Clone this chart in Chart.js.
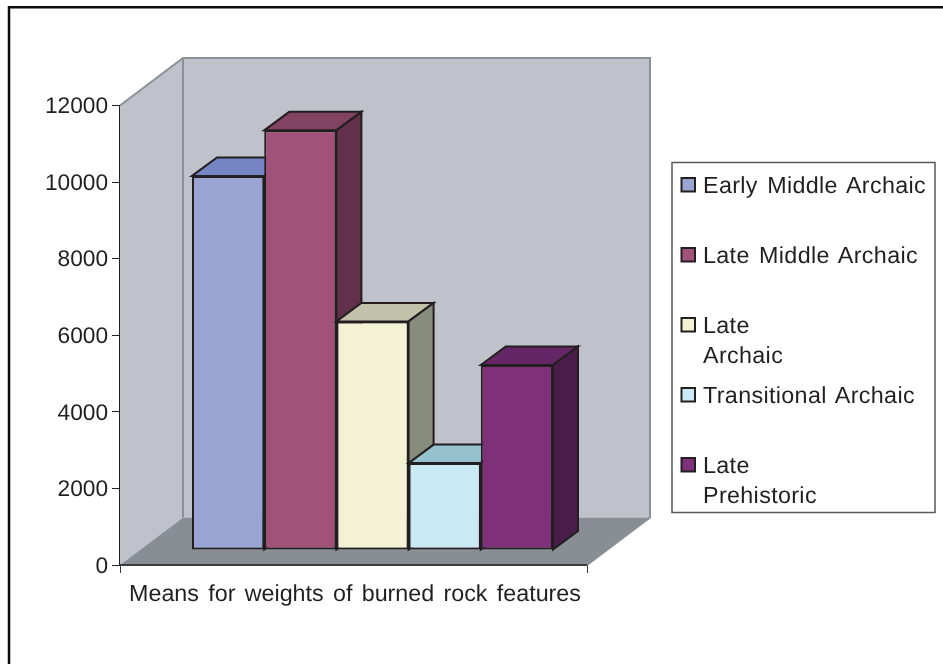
<!DOCTYPE html>
<html>
<head>
<meta charset="utf-8">
<title>Means for weights of burned rock features</title>
<script src="https://cdn.jsdelivr.net/npm/chart.js@4"></script>
<style>
    html, body { margin: 0; padding: 0; background: #fff; }
    #wrap { position: relative; width: 943px; height: 664px; }
</style>
</head>
<body>
<div id="wrap"><canvas id="chart" width="943" height="664"></canvas></div>
<script>
const categories = ['Means for weights of burned rock features'];
const seriesNames = ['Early Middle Archaic', 'Late Middle Archaic', 'Late Archaic', 'Transitional Archaic', 'Late Prehistoric'];
const seriesValues = [9770, 10960, 5970, 2270, 4830];
const tickValues = [0, 2000, 4000, 6000, 8000, 10000, 12000];

const frontColors = ['#99a4d3', '#a05279', '#f3f2d4', '#c9e9f4', '#7e3079'];
const topColors = ['#7585c3', '#824262', '#c2c2ab', '#96c1cf', '#642664'];
const sideColors = ['#5b6894', '#62304b', '#878c7c', '#7a9ba8', '#4a1c49'];

// legend entries: wrapped lines and the baseline of each first line
const legendLines = [['Early Middle Archaic'], ['Late Middle Archaic'], ['Late', 'Archaic'], ['Transitional Archaic'], ['Late', 'Prehistoric']];
const legendY = [193, 263, 333, 403, 473];

const INK = '#231f20';
const FONT = '"Liberation Sans", Arial, sans-serif';
const WALL_DX = 63, WALL_DY = 47.5;   // depth of the box
const BAR_DX = 19, BAR_DY = 15;       // bars stand inside the box
const SIDE_DX = 25, SIDE_DY = 18.5;   // depth of a bar

function poly(ctx, pts, fill, stroke, width) {
    ctx.beginPath();
    pts.forEach((p, i) => i ? ctx.lineTo(p[0], p[1]) : ctx.moveTo(p[0], p[1]));
    ctx.closePath();
    if (fill) { ctx.fillStyle = fill; ctx.fill(); }
    if (stroke) { ctx.strokeStyle = stroke; ctx.lineWidth = width; ctx.lineJoin = 'miter'; ctx.stroke(); }
}

// back wall, side wall and floor, sized from the chart area
const boxPlugin = {
    id: 'box',
    beforeDraw(chart) {
        // only the axis title has spaces, the numbers are not affected
        chart.ctx.wordSpacing = '2.8px';
        chart.ctx.textRendering = 'geometricPrecision';
    },
    beforeDatasetsDraw(chart) {
        const ctx = chart.ctx, a = chart.chartArea;
        const l = a.left, r = a.right, t = a.top, b = a.bottom;
        const bl = l + WALL_DX, br = r + WALL_DX, bt = t - WALL_DY, bb = b - WALL_DY;

        poly(ctx, [[bl, bt], [br, bt], [br, bb], [bl, bb]], '#bfc2ca');
        poly(ctx, [[l, t], [bl, bt], [bl, bb], [l, b]], '#bfc2ca');
        poly(ctx, [[l, b], [bl, bb], [br, bb], [r, b]], '#888e93');

        ctx.lineWidth = 2;
        ctx.strokeStyle = '#8a9298';
        ctx.beginPath();
        ctx.moveTo(l, t); ctx.lineTo(bl, bt); ctx.lineTo(br, bt); ctx.lineTo(br, bb); ctx.lineTo(r, b);
        ctx.moveTo(bl, bt); ctx.lineTo(bl, bb);
        ctx.stroke();

        ctx.strokeStyle = '#3c3c40';
        ctx.beginPath();
        ctx.moveTo(l, b); ctx.lineTo(r, b);
        ctx.stroke();

        // bars go left to right so each one covers the side of the previous
        ctx.save();
        ctx.translate(BAR_DX, -BAR_DY);
        chart.getSortedVisibleDatasetMetas().forEach((meta, i) => {
            const el = meta.data[0];
            const x0 = el.x - el.width / 2, x1 = el.x + el.width / 2;
            const y0 = el.y, y1 = el.base;
            poly(ctx, [[x0, y0], [x0 + SIDE_DX, y0 - SIDE_DY], [x1 + SIDE_DX, y0 - SIDE_DY], [x1, y0]], topColors[i], INK, 2);
            poly(ctx, [[x1, y0], [x1 + SIDE_DX, y0 - SIDE_DY], [x1 + SIDE_DX, y1 - SIDE_DY], [x1, y1]], sideColors[i], INK, 2);
            el.draw(ctx);
        });
        ctx.restore();
        return false;
    }
};

// framed legend with wrapped labels, plus the top and left rules of the figure
const legendPlugin = {
    id: 'boxLegend',
    afterDraw(chart) {
        const ctx = chart.ctx;
        ctx.save();
        ctx.strokeStyle = '#0c0c0c';
        ctx.lineWidth = 2.5;
        ctx.beginPath();
        ctx.moveTo(9, 664); ctx.lineTo(9, 7.3); ctx.lineTo(943, 7.3);
        ctx.stroke();

        ctx.strokeStyle = '#58595b';
        ctx.lineWidth = 1.5;
        ctx.strokeRect(672, 162.5, 263, 350);

        ctx.font = '23.3px ' + FONT;
        ctx.wordSpacing = '2.5px';
        ctx.letterSpacing = '0.35px';
        ctx.textBaseline = 'alphabetic';
        ctx.textAlign = 'left';
        chart.data.datasets.forEach((ds, i) => {
            const y = legendY[i];
            ctx.fillStyle = ds.backgroundColor;
            ctx.strokeStyle = INK;
            ctx.lineWidth = 2;
            ctx.fillRect(681.5, y - 15, 13.5, 13.5);
            ctx.strokeRect(681.5, y - 15, 13.5, 13.5);
            ctx.fillStyle = INK;
            legendLines[i].forEach((line, j) => ctx.fillText(line, 703, y + j * 30));
        });
        ctx.restore();
    }
};

new Chart(document.getElementById('chart'), {
    type: 'bar',
    data: {
        labels: categories,
        datasets: seriesNames.map((name, i) => ({
            label: name,
            data: [seriesValues[i]],
            backgroundColor: frontColors[i],
            borderColor: INK,
            borderWidth: 2,
            borderSkipped: false
        }))
    },
    options: {
        responsive: false,
        animation: false,
        events: [],
        layout: { padding: { left: 0, right: 356, top: 105.5, bottom: 0 } },
        datasets: { bar: { categoryPercentage: 0.773, barPercentage: 1 } },
        plugins: { legend: { display: false }, tooltip: { enabled: false }, title: { display: false } },
        scales: {
            x: {
                afterFit(scale) { scale.height = 99; },
                border: { color: '#3c3c40', width: 2 },
                grid: { drawOnChartArea: false, tickLength: 8, color: '#3c3c40' },
                ticks: { color: INK, font: { family: FONT, size: 23.3 }, padding: 8, maxRotation: 0, labelOffset: 1.5 }
            },
            y: {
                min: 0,
                max: 12000,
                afterFit(scale) { scale.width = 120; },
                afterBuildTicks(scale) { scale.ticks = tickValues.map(v => ({ value: v })); },
                border: { color: INK, width: 1.5 },
                grid: { drawOnChartArea: false, tickLength: 8, color: INK },
                ticks: {
                    color: INK,
                    font: { family: FONT, size: 22.7 },
                    padding: 4,
                    labelOffset: 1.5,
                    callback: v => String(v)
                }
            }
        }
    },
    plugins: [boxPlugin, legendPlugin]
});
</script>
</body>
</html>
